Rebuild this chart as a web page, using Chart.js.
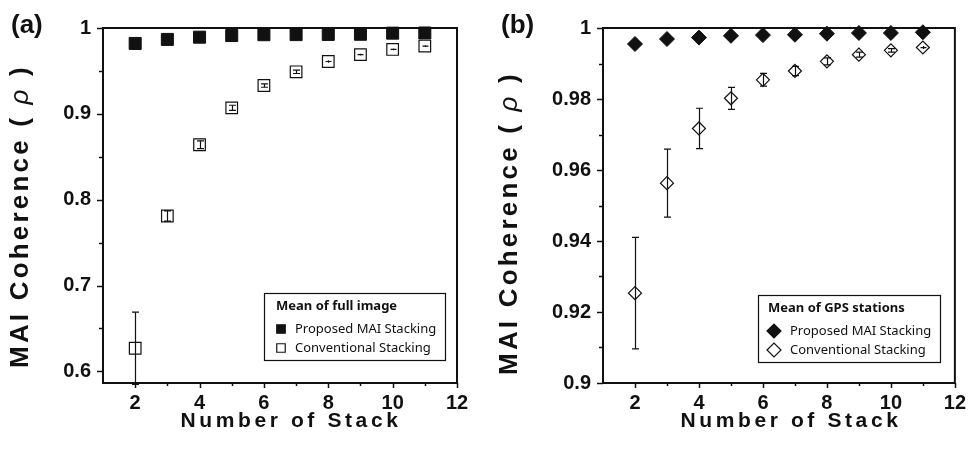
<!DOCTYPE html>
<html>
<head>
<meta charset="utf-8">
<script src="https://cdn.jsdelivr.net/npm/chart.js@4.4.1/dist/chart.umd.min.js"></script>
<style>
  html, body { margin: 0; padding: 0; background: #fff; }
  #wrap { position: relative; width: 974px; height: 454px; }
  canvas { position: absolute; top: 0; }
  #chartA { left: 0; }
  #chartB { left: 487px; }
</style>
</head>
<body>
<div id="wrap">
  <canvas id="chartA" width="487" height="454"></canvas>
  <canvas id="chartB" width="487" height="454"></canvas>
</div>
<script>
// number of stacked interferograms
const stackCounts = [2, 3, 4, 5, 6, 7, 8, 9, 10, 11];

// (a) mean of full image
const fullProposed = [0.982, 0.9867, 0.9893, 0.9912, 0.9922, 0.9923, 0.9925, 0.9927, 0.994, 0.9942];
const fullConventional = [0.627, 0.781, 0.864, 0.907, 0.933, 0.949, 0.961, 0.969, 0.975, 0.979];
const fullConventionalErr = [0.042, 0.006, 0.0045, 0.003, 0.002, 0.002, 0.0015, 0.001, 0.001, 0.001];

// (b) mean of GPS stations
const gpsProposed = [0.9955, 0.9969, 0.9973, 0.9978, 0.998, 0.9981, 0.9984, 0.9986, 0.9986, 0.9988];
const gpsConventional = [0.9253, 0.9563, 0.9717, 0.9802, 0.9854, 0.9879, 0.9906, 0.9925, 0.9937, 0.9945];
const gpsConventionalErr = [0.0157, 0.0096, 0.0057, 0.0031, 0.0018, 0.0013, 0.001, 0.0007, 0.0005, 0.0004];

const seriesLabels = ['Proposed MAI Stacking', 'Conventional Stacking'];
const legendTitles = ['Mean of full image', 'Mean of GPS stations'];
const panelTags = ['(a)', '(b)'];

// ticks
const xMajor = [2, 4, 6, 8, 10, 12];
const xMinor = [3, 5, 7, 9, 11];
const yMajorA = [0.6, 0.7, 0.8, 0.9, 1];
const yMinorA = [0.65, 0.75, 0.85, 0.95];
const yMajorB = [0.9, 0.92, 0.94, 0.96, 0.98, 1];
const yMinorB = [0.91, 0.93, 0.95, 0.97, 0.99];

const INK = '#111';
const AXIS_FONT = '"Liberation Sans", Arial, sans-serif';
const LEG_FONT = '"Noto Sans", "Open Sans", sans-serif';

function pts(ys) { return stackCounts.map((x, i) => ({ x, y: ys[i] })); }
function fmt(v) { return String(+v.toFixed(2)); }

function drawMarker(ctx, style, filled, cx, cy, r) {
  ctx.beginPath();
  if (style === 'rect') {
    const s = r * Math.SQRT1_2;
    ctx.rect(cx - s, cy - s, 2 * s, 2 * s);
  } else {
    ctx.moveTo(cx - r, cy); ctx.lineTo(cx, cy - r); ctx.lineTo(cx + r, cy); ctx.lineTo(cx, cy + r); ctx.closePath();
  }
  ctx.fillStyle = filled ? INK : '#fff';
  ctx.fill();
  ctx.lineWidth = 1.2; ctx.strokeStyle = INK;
  ctx.stroke();
}

// frame + outward ticks
const framePlugin = {
  id: 'frame',
  beforeDatasetsDraw(chart) {
    const { ctx, chartArea: a, scales: { x, y } } = chart;
    const o = chart.options.plugins.frame;
    ctx.save();
    ctx.strokeStyle = INK;
    ctx.lineWidth = 2;
    ctx.strokeRect(a.left, a.top, a.right - a.left, a.bottom - a.top);
    ctx.lineWidth = 1.5;
    ctx.beginPath();
    y.ticks.forEach(t => {
      const py = Math.round(y.getPixelForValue(t.value)) + 0.5;
      const len = o.yMajor.includes(t.value) ? 6 : 4;
      ctx.moveTo(a.left - len, py); ctx.lineTo(a.left, py);
    });
    x.ticks.forEach(t => {
      const px = Math.round(x.getPixelForValue(t.value)) + 0.5;
      const len = xMajor.includes(t.value) ? 5 : 3;
      ctx.moveTo(px, a.bottom); ctx.lineTo(px, a.bottom + len);
    });
    ctx.stroke();
    ctx.restore();
  },
  afterDatasetsDraw(chart) {
    // error bars over the open markers
    const { ctx, scales: { x, y } } = chart;
    ctx.save();
    ctx.strokeStyle = INK;
    ctx.lineWidth = 1.2;
    chart.data.datasets.forEach(ds => {
      if (!ds.errors) return;
      ds.data.forEach((p, i) => {
        const e = ds.errors[i];
        const px = Math.round(x.getPixelForValue(p.x)) + 0.5;
        const top = y.getPixelForValue(p.y + e);
        const bot = y.getPixelForValue(p.y - e);
        ctx.beginPath();
        ctx.moveTo(px, top); ctx.lineTo(px, bot);
        if (bot - top > 3) {
          ctx.moveTo(px - 3.5, top); ctx.lineTo(px + 3.5, top);
          ctx.moveTo(px - 3.5, bot); ctx.lineTo(px + 3.5, bot);
        } else {
          ctx.moveTo(px - 3, (top + bot) / 2); ctx.lineTo(px + 3, (top + bot) / 2);
        }
        ctx.stroke();
      });
    });
    ctx.restore();
  },
  afterDraw(chart) {
    const { ctx } = chart;
    const o = chart.options.plugins.frame;
    ctx.save();
    ctx.fillStyle = INK;

    // panel tag
    ctx.font = 'bold 26px ' + AXIS_FONT;
    ctx.textAlign = 'left'; ctx.textBaseline = 'middle';
    ctx.fillText(o.tag, o.tagX, 26);

    // x title
    ctx.font = 'bold 21px ' + AXIS_FONT;
    ctx.letterSpacing = '3.6px';
    ctx.textAlign = 'center';
    ctx.fillText('Number of Stack', o.xTitleX + 2, 421);

    // y title, rho in italics
    ctx.save();
    ctx.translate(o.yTitleX, o.yTitleY);
    ctx.rotate(-Math.PI / 2);
    ctx.letterSpacing = '3.2px';
    const runs = [['MAI Coherence ( ', 'bold 26px ' + AXIS_FONT], ['\u03C1', 'italic 26px ' + AXIS_FONT], [' )', 'bold 26px ' + AXIS_FONT]];
    let total = 0;
    runs.forEach(r => { ctx.font = r[1]; total += ctx.measureText(r[0]).width; });
    let cx = -total / 2;
    ctx.textAlign = 'left';
    runs.forEach(r => { ctx.font = r[1]; ctx.fillText(r[0], cx, 0); cx += ctx.measureText(r[0]).width; });
    ctx.restore();
    ctx.letterSpacing = '0px';

    // legend box
    const L = o.legend;
    ctx.lineWidth = 1.2; ctx.strokeStyle = INK;
    ctx.strokeRect(L.x + 0.5, L.y + 0.5, L.w, L.h);
    ctx.font = 'bold 13px ' + LEG_FONT;
    ctx.textAlign = 'left'; ctx.textBaseline = 'middle';
    ctx.fillText(o.legendTitle, L.titleX, L.y + 13);
    chart.data.datasets.forEach((ds, i) => {
      const cy = L.y + 36 + i * 19;
      drawMarker(ctx, ds.pointStyle, ds.backgroundColor === INK, L.markX, cy, L.markR);
      ctx.fillStyle = INK;
      ctx.font = '13px ' + LEG_FONT;
      ctx.fillText(ds.label, L.textX, cy);
    });
    ctx.restore();
  }
};

function makePanel(id, cfg) {
  const yTicks = cfg.yMajor.concat(cfg.yMinor).sort((a, b) => a - b);
  const xTicks = xMajor.concat(xMinor).sort((a, b) => a - b);
  return new Chart(document.getElementById(id), {
    type: 'scatter',
    data: {
      datasets: [
        {
          label: seriesLabels[0], data: pts(cfg.proposed), pointStyle: cfg.style,
          pointRadius: cfg.fillR, backgroundColor: INK, borderColor: INK, borderWidth: 1, clip: false
        },
        {
          label: seriesLabels[1], data: pts(cfg.conventional), errors: cfg.errors, pointStyle: cfg.style,
          pointRadius: cfg.openR, backgroundColor: '#fff', borderColor: INK, borderWidth: 1.2, clip: false
        }
      ]
    },
    options: {
      responsive: false,
      animation: false,
      layout: { autoPadding: false, padding: { top: 28, right: cfg.padRight, left: 0, bottom: 0 } },
      plugins: {
        legend: { display: false },
        tooltip: { enabled: false },
        frame: cfg.frame
      },
      scales: {
        x: {
          type: 'linear', min: 1, max: 12,
          grid: { display: false, drawTicks: false },
          border: { display: false },
          afterBuildTicks: s => { s.ticks = xTicks.map(v => ({ value: v })); },
          afterFit: s => { s.height = 71; },
          ticks: {
            autoSkip: false, maxRotation: 0, padding: 8, color: INK,
            font: { family: AXIS_FONT, size: 20, weight: 'bold' },
            callback: v => xMajor.includes(v) ? String(v) : ''
          }
        },
        y: {
          type: 'linear', min: cfg.yMin, max: 1,
          grid: { display: false, drawTicks: false },
          border: { display: false },
          afterBuildTicks: s => { s.ticks = yTicks.map(v => ({ value: v })); },
          afterFit: s => { s.width = cfg.yWidth; },
          ticks: {
            autoSkip: false, padding: 12, color: INK,
            font: { family: AXIS_FONT, size: 20, weight: 'bold' },
            callback: v => cfg.yMajor.includes(v) ? fmt(v) : ''
          }
        }
      }
    },
    plugins: [framePlugin]
  });
}

makePanel('chartA', {
  proposed: fullProposed, conventional: fullConventional, errors: fullConventionalErr,
  style: 'rect', fillR: 8.5, openR: 8.2,
  yMajor: yMajorA, yMinor: yMinorA, yMin: 0.5865, yWidth: 103, padRight: 30,
  frame: {
    tag: panelTags[0], tagX: 11, yMajor: yMajorA,
    xTitleX: 289, yTitleX: 21, yTitleY: 216,
    legendTitle: legendTitles[0],
    legend: { x: 264, y: 293, w: 181, h: 67, titleX: 276, markX: 281, textX: 295, markR: 6 }
  }
});

makePanel('chartB', {
  proposed: gpsProposed, conventional: gpsConventional, errors: gpsConventionalErr,
  style: 'rectRot', fillR: 7.5, openR: 6.5,
  yMajor: yMajorB, yMinor: yMinorB, yMin: 0.9, yWidth: 116, padRight: 17,
  frame: {
    tag: panelTags[1], tagX: 14, yMajor: yMajorB,
    xTitleX: 302, yTitleX: 23, yTitleY: 223,
    legendTitle: legendTitles[1],
    legend: { x: 271, y: 295, w: 182, h: 67, titleX: 281, markX: 287, textX: 303, markR: 7 }
  }
});
</script>
</body>
</html>
